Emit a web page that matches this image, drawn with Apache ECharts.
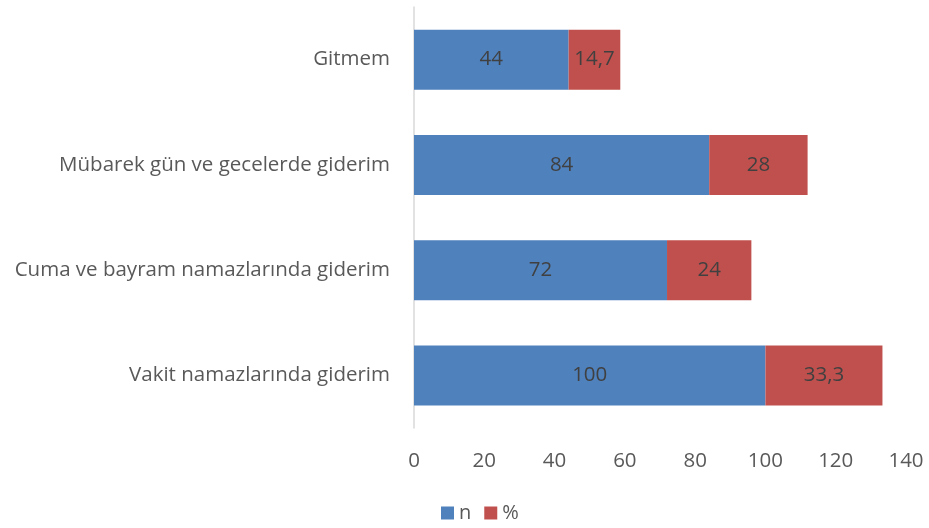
<!DOCTYPE html>
<html><head><meta charset="utf-8">
<script src="https://cdn.jsdelivr.net/npm/echarts@6/dist/echarts.min.js"></script>
<style>html,body{margin:0;padding:0;background:#fff}#c{width:929px;height:528px}</style>
</head><body><div id="c"></div>
<script>
const categories = ["Vakit namazlarında giderim","Cuma ve bayram namazlarında giderim","Mübarek gün ve gecelerde giderim","Gitmem"];
const nValues = [100, 72, 84, 44];
const pctValues = [33.3, 24, 28, 14.7];
const xTicks = [0, 20, 40, 60, 80, 100, 120, 140];
const font = "Open Sans, Lato, sans-serif";
const chart = echarts.init(document.getElementById('c'));
const fmt = p => String(p.value).replace('.', ',');
chart.setOption({
  animation:false,
  grid:{left:414,right:23,top:7,bottom:100,containLabel:false},
  legend:{bottom:0,left:436,itemWidth:13,itemHeight:13,itemGap:13,icon:'rect',
    textStyle:{fontFamily:font,fontSize:20,color:'#595959'},data:['n','%']},
  xAxis:{type:'value',min:xTicks[0],max:xTicks[xTicks.length-1],interval:20,
    axisLine:{show:false},axisTick:{show:false},splitLine:{show:false},
    axisLabel:{fontFamily:font,fontSize:20.5,color:'#595959',margin:23}},
  yAxis:{type:'category',data:categories,
    axisLine:{show:true,lineStyle:{color:'#d9d9d9',width:1.5}},axisTick:{show:false},
    axisLabel:{fontFamily:font,fontSize:20.5,color:'#595959',margin:24}},
  series:[
    {name:'n',type:'bar',stack:'a',data:nValues,barWidth:60,itemStyle:{color:'#4F81BD'},
      label:{show:true,position:'inside',formatter:fmt,fontFamily:font,fontSize:20.5,color:'#404040'}},
    {name:'%',type:'bar',stack:'a',data:pctValues,barWidth:60,itemStyle:{color:'#C0504D'},
      label:{show:true,position:'inside',formatter:fmt,fontFamily:font,fontSize:20.5,color:'#404040'}}
  ]
});
</script></body></html>
